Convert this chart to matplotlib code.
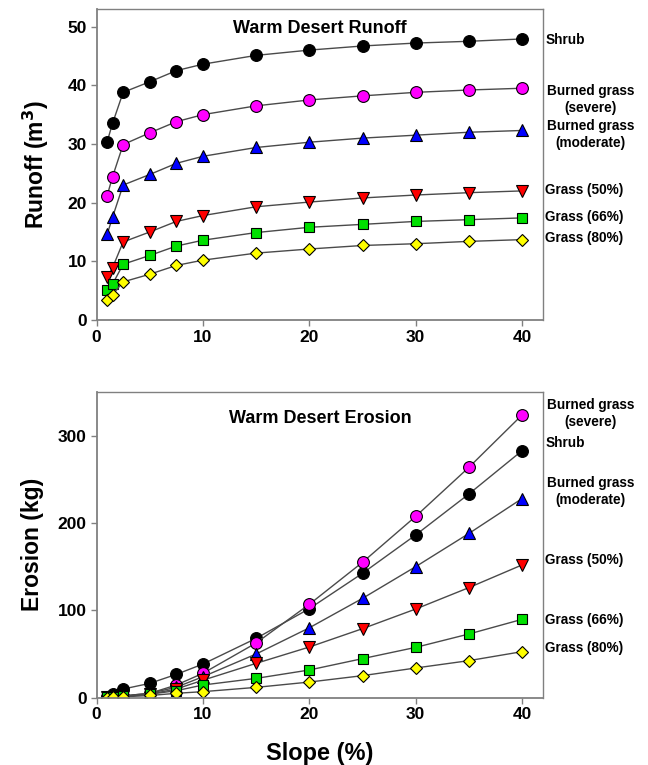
import matplotlib
matplotlib.use("Agg")
import matplotlib.pyplot as plt

plt.rcParams['font.family'] = ['Liberation Sans', 'DejaVu Sans']
plt.rcParams['font.weight'] = 'bold'

slope = [1, 1.5, 2.5, 5, 7.5, 10, 15, 20, 25, 30, 35, 40]

series_names = ["Shrub", "Burned grass\n(severe)", "Burned grass\n(moderate)",
                "Grass (50%)", "Grass (66%)", "Grass (80%)"]

runoff_shrub = [30.4, 33.5, 38.8, 40.6, 42.5, 43.6, 45.1, 46.0, 46.7, 47.2, 47.5, 47.9]
runoff_severe = [21.2, 24.4, 29.9, 31.9, 33.8, 35.0, 36.5, 37.5, 38.2, 38.8, 39.2, 39.5]
runoff_moderate = [14.6, 17.5, 23.0, 24.8, 26.7, 27.9, 29.4, 30.3, 31.0, 31.5, 32.0, 32.3]
runoff_g50 = [7.3, 8.9, 13.3, 15.0, 16.8, 17.8, 19.3, 20.1, 20.8, 21.3, 21.7, 22.0]
runoff_g66 = [5.1, 6.1, 9.5, 11.0, 12.6, 13.6, 14.9, 15.8, 16.3, 16.8, 17.1, 17.4]
runoff_g80 = [3.4, 4.3, 6.5, 7.8, 9.3, 10.2, 11.4, 12.1, 12.7, 13.0, 13.4, 13.7]

erosion_shrub = [1.1, 3.8, 9.9, 16.4, 26.7, 38.5, 67.9, 101.9, 142.4, 186.3, 233.2, 282.8]
erosion_severe = [0.3, 0.5, 2.0, 5.0, 14.5, 27.9, 62.6, 106.9, 155.0, 207.6, 263.7, 323.7]
erosion_moderate = [0.5, 1.0, 2.0, 5.0, 12.0, 24.0, 50.0, 80.0, 113.7, 150.0, 188.0, 228.0]
erosion_g50 = [0.3, 0.7, 1.5, 4.0, 10.0, 20.0, 39.3, 58.0, 79.0, 101.5, 126.0, 152.0]
erosion_g66 = [0.3, 0.6, 1.5, 4.0, 8.0, 14.5, 22.1, 31.7, 44.7, 57.6, 72.9, 89.7]
erosion_g80 = [0.2, 0.5, 1.0, 2.5, 5.0, 6.9, 11.8, 17.9, 25.2, 34.0, 42.4, 52.7]

runoff_label_y = [47.8, 37.6, 31.6, 22.2, 17.6, 14.0]
erosion_label_y = [292, 325, 236, 158, 89, 57]

colors = ["#000000", "#FF00FF", "#0000FF", "#FF0000", "#00E000", "#FFFF00"]
markers = ["o", "o", "^", "v", "s", "D"]
msizes = [8.5, 8.5, 8, 8, 7, 6.5]

runoff = [runoff_shrub, runoff_severe, runoff_moderate, runoff_g50, runoff_g66, runoff_g80]
erosion = [erosion_shrub, erosion_severe, erosion_moderate, erosion_g50, erosion_g66, erosion_g80]

fig = plt.figure(figsize=(6.48, 7.65), dpi=100)
ax1 = fig.add_axes([0.149, 0.5817, 0.6895, 0.4065])
ax2 = fig.add_axes([0.149, 0.0880, 0.6895, 0.3996])

def style(ax):
    for s in ax.spines.values():
        s.set_color("#808080")
        s.set_linewidth(1.0)
    ax.spines['left'].set_linewidth(1.3)
    ax.spines['bottom'].set_linewidth(1.3)
    ax.tick_params(direction='out', length=4, width=1, color="#808080",
                   labelsize=12.5, pad=3)
    for lab in ax.get_xticklabels() + ax.get_yticklabels():
        lab.set_fontweight('bold')
    ax.set_xlim(0, 42)
    ax.set_xticks([0, 10, 20, 30, 40])

def draw(ax, data):
    for vals, c, m, ms in zip(data, colors, markers, msizes):
        ax.plot(slope, vals, color="#4a4a4a", lw=1.0, marker=m, ms=ms,
                mfc=c, mec="black", mew=0.8)

draw(ax1, runoff)
draw(ax2, erosion)
style(ax1)
style(ax2)

ax1.set_ylim(0, 53)
ax1.set_yticks([0, 10, 20, 30, 40, 50])
ax2.set_ylim(0, 350)
ax2.set_yticks([0, 100, 200, 300])

ax1.set_ylabel("Runoff (m$^\\mathbf{3}$)", fontsize=16.5, fontweight='bold', labelpad=12)
ax2.set_ylabel("Erosion (kg)", fontsize=16.5, fontweight='bold', labelpad=10)
ax2.set_xlabel("Slope (%)", fontsize=17, fontweight='bold', labelpad=14)

ax1.text(0.5, 0.965, "Warm Desert Runoff", transform=ax1.transAxes,
         ha='center', va='top', fontsize=13, fontweight='bold')
ax2.text(0.5, 0.94, "Warm Desert Erosion", transform=ax2.transAxes,
         ha='center', va='top', fontsize=13, fontweight='bold')

for ax, ys in ((ax1, runoff_label_y), (ax2, erosion_label_y)):
    for name, y in zip(series_names, ys):
        if "\n" in name:
            ax.annotate(name, xy=(1.0, y), xycoords=('axes fraction', 'data'),
                        xytext=(34, 0), textcoords='offset points',
                        ha='center', va='center', fontsize=9.8, fontweight='bold',
                        linespacing=1.25, annotation_clip=False)
        else:
            ax.annotate(name, xy=(1.0, y), xycoords=('axes fraction', 'data'),
                        xytext=(1.5, 0), textcoords='offset points',
                        ha='left', va='center', fontsize=9.8, fontweight='bold',
                        annotation_clip=False)

fig.savefig("out.png", dpi=100)
